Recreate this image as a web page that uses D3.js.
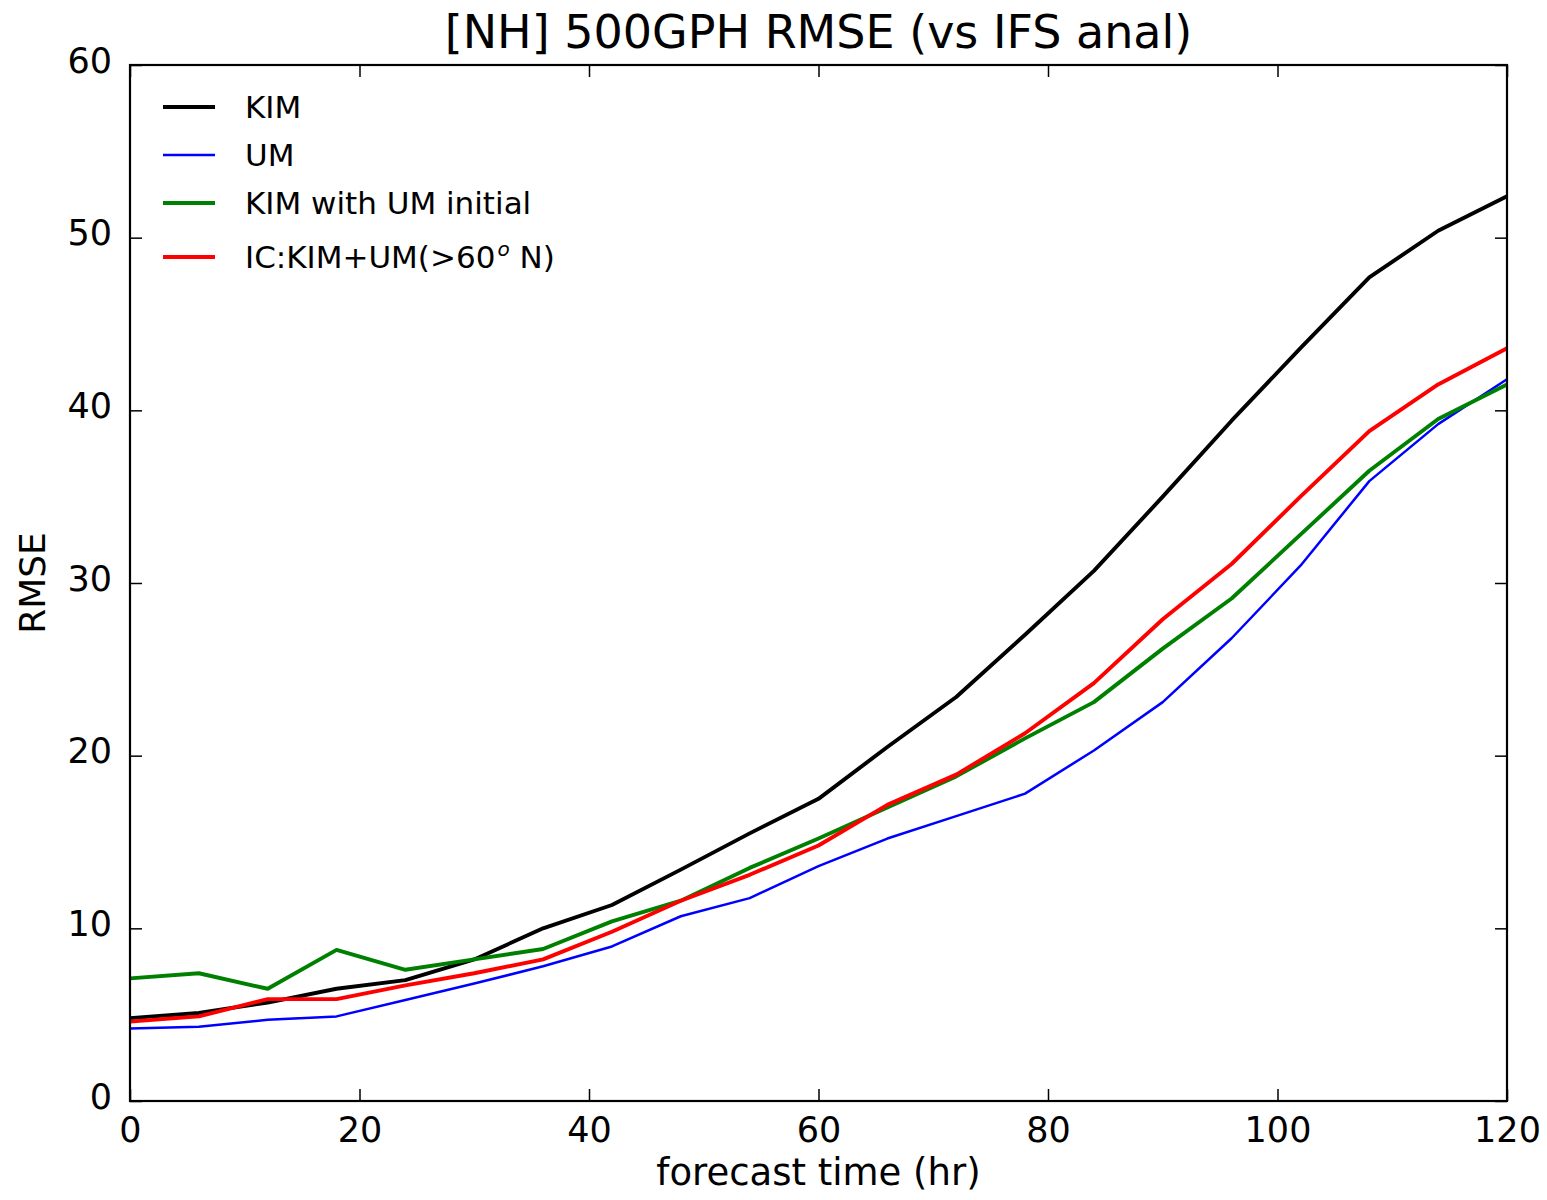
<!DOCTYPE html>
<html>
<head>
<meta charset="utf-8">
<script src="https://cdnjs.cloudflare.com/ajax/libs/d3/7.8.5/d3.min.js"></script>
<style>
  body { margin: 0; background: #fff; }
  text { font-family: "DejaVu Sans", sans-serif; fill: #000; }
</style>
</head>
<body>
<div id="chart"></div>
<script>
// forecast lead times (hr)
let hours = [0, 6, 12, 18, 24, 30, 36, 42, 48, 54, 60, 66, 72, 78, 84, 90, 96, 102, 108, 114, 120];

let kim = [4.8, 5.1, 5.7, 6.5, 7.0, 8.2, 10.0, 11.35, 13.4, 15.5, 17.5, 20.5, 23.4, 27.0, 30.7, 35.0, 39.4, 43.6, 47.7, 50.4, 52.4];
let um = [4.2, 4.3, 4.7, 4.9, 5.85, 6.8, 7.8, 8.95, 10.7, 11.75, 13.6, 15.2, 16.5, 17.8, 20.3, 23.1, 26.8, 31.0, 35.9, 39.2, 41.8];
let kimUmInit = [7.1, 7.4, 6.5, 8.75, 7.6, 8.2, 8.8, 10.4, 11.6, 13.5, 15.2, 17.0, 18.8, 21.0, 23.1, 26.2, 29.1, 32.8, 36.5, 39.5, 41.5];
let icKimUm = [4.6, 4.9, 5.9, 5.9, 6.7, 7.4, 8.2, 9.8, 11.6, 13.1, 14.8, 17.15, 18.9, 21.3, 24.2, 27.9, 31.1, 35.0, 38.8, 41.5, 43.6];

let seriesNames = ['KIM', 'UM', 'KIM with UM initial', 'IC:KIM+UM(>60'];
let seriesColors = ['#000000', '#0000ff', '#008000', '#ff0000'];
let seriesWidths = [3.9, 2.5, 3.9, 3.9];
let seriesValues = [kim, um, kimUmInit, icKimUm];

let xTicks = [0, 20, 40, 60, 80, 100, 120];
let yTicks = [0, 10, 20, 30, 40, 50, 60];

let svgWidth = 1547;
let svgHeight = 1200;
let margin = { left: 130, right: 40, top: 65, bottom: 99 };
let plotW = svgWidth - margin.left - margin.right;
let plotH = svgHeight - margin.top - margin.bottom;

let svg = d3.select('#chart').append('svg')
    .attr('width', svgWidth)
    .attr('height', svgHeight);

let x = d3.scaleLinear().domain([0, 120]).range([margin.left, margin.left + plotW]);
let y = d3.scaleLinear().domain([0, 60]).range([margin.top + plotH, margin.top]);

let lineFunction = d3.line()
    .x(function (d) { return x(d.h); })
    .y(function (d) { return y(d.v); });

// lines
let plot = svg.append('g').attr('id', 'lines');
for (let i in seriesValues) {
    let data = hours.map(function (h, j) { return { h: h, v: seriesValues[i][j] }; });
    plot.append('path')
        .attr('d', lineFunction(data))
        .attr('fill', 'none')
        .attr('stroke', seriesColors[i])
        .attr('stroke-width', seriesWidths[i])
        .attr('stroke-linejoin', 'round');
}

// axes with inward ticks on all sides
let tickLen = 12;
let fmt = d3.format('d');
let bottomAxis = d3.axisBottom(x).tickValues(xTicks).tickSize(-tickLen).tickPadding(16).tickFormat(fmt);
let topAxis = d3.axisTop(x).tickValues(xTicks).tickSize(-tickLen).tickFormat('');
let leftAxis = d3.axisLeft(y).tickValues(yTicks).tickSize(-tickLen).tickPadding(18).tickFormat(fmt);
let rightAxis = d3.axisRight(y).tickValues(yTicks).tickSize(-tickLen).tickFormat('');

function styleAxis(g) {
    g.select('.domain').remove();
    g.selectAll('.tick line').attr('stroke', '#000').attr('stroke-width', 1.5);
    g.selectAll('.tick text').style('font-family', '"DejaVu Sans", sans-serif').style('font-size', '35px').attr('fill', '#000');
}

svg.append('g').attr('transform', 'translate(0,' + (margin.top + plotH) + ')').call(bottomAxis).call(styleAxis);
svg.append('g').attr('transform', 'translate(0,' + margin.top + ')').call(topAxis).call(styleAxis);
svg.append('g').attr('transform', 'translate(' + margin.left + ',0)').call(leftAxis).call(styleAxis)
    .selectAll('.tick text').attr('dy', '0.2em');
svg.append('g').attr('transform', 'translate(' + (margin.left + plotW) + ',0)').call(rightAxis).call(styleAxis);

// frame
svg.append('rect')
    .attr('x', margin.left)
    .attr('y', margin.top)
    .attr('width', plotW)
    .attr('height', plotH)
    .attr('fill', 'none')
    .attr('stroke', '#000')
    .attr('stroke-width', 2.2);

// title and labels
svg.append('text')
    .attr('x', margin.left + plotW / 2)
    .attr('y', 48)
    .attr('text-anchor', 'middle')
    .style('font-size', '46px')
    .text('[NH] 500GPH RMSE (vs IFS anal)');

svg.append('text')
    .attr('x', margin.left + plotW / 2)
    .attr('y', 1185)
    .attr('text-anchor', 'middle')
    .style('font-size', '37px')
    .text('forecast time (hr)');

svg.append('text')
    .attr('transform', 'translate(45,' + (margin.top + plotH / 2) + ') rotate(-90)')
    .attr('text-anchor', 'middle')
    .style('font-size', '36px')
    .text('RMSE');

// legend
let legendRows = [107, 155, 203, 257];
let legend = svg.append('g').attr('id', 'legend');
for (let i in seriesNames) {
    let ly = legendRows[i];
    legend.append('line')
        .attr('x1', 163).attr('x2', 215)
        .attr('y1', ly).attr('y2', ly)
        .attr('stroke', seriesColors[i])
        .attr('stroke-width', seriesWidths[i]);
    let t = legend.append('text')
        .attr('x', 245)
        .attr('y', ly)
        .attr('dy', '11px')
        .style('font-size', '31px')
        .text(seriesNames[i]);
    if (i == 3) {
        t.append('tspan')
            .attr('dx', '2px')
            .attr('dy', '-12px')
            .style('font-size', '20px')
            .style('font-style', 'italic')
            .text('o');
        t.append('tspan')
            .attr('dy', '12px')
            .text(' N)');
    }
}
</script>
</body>
</html>
